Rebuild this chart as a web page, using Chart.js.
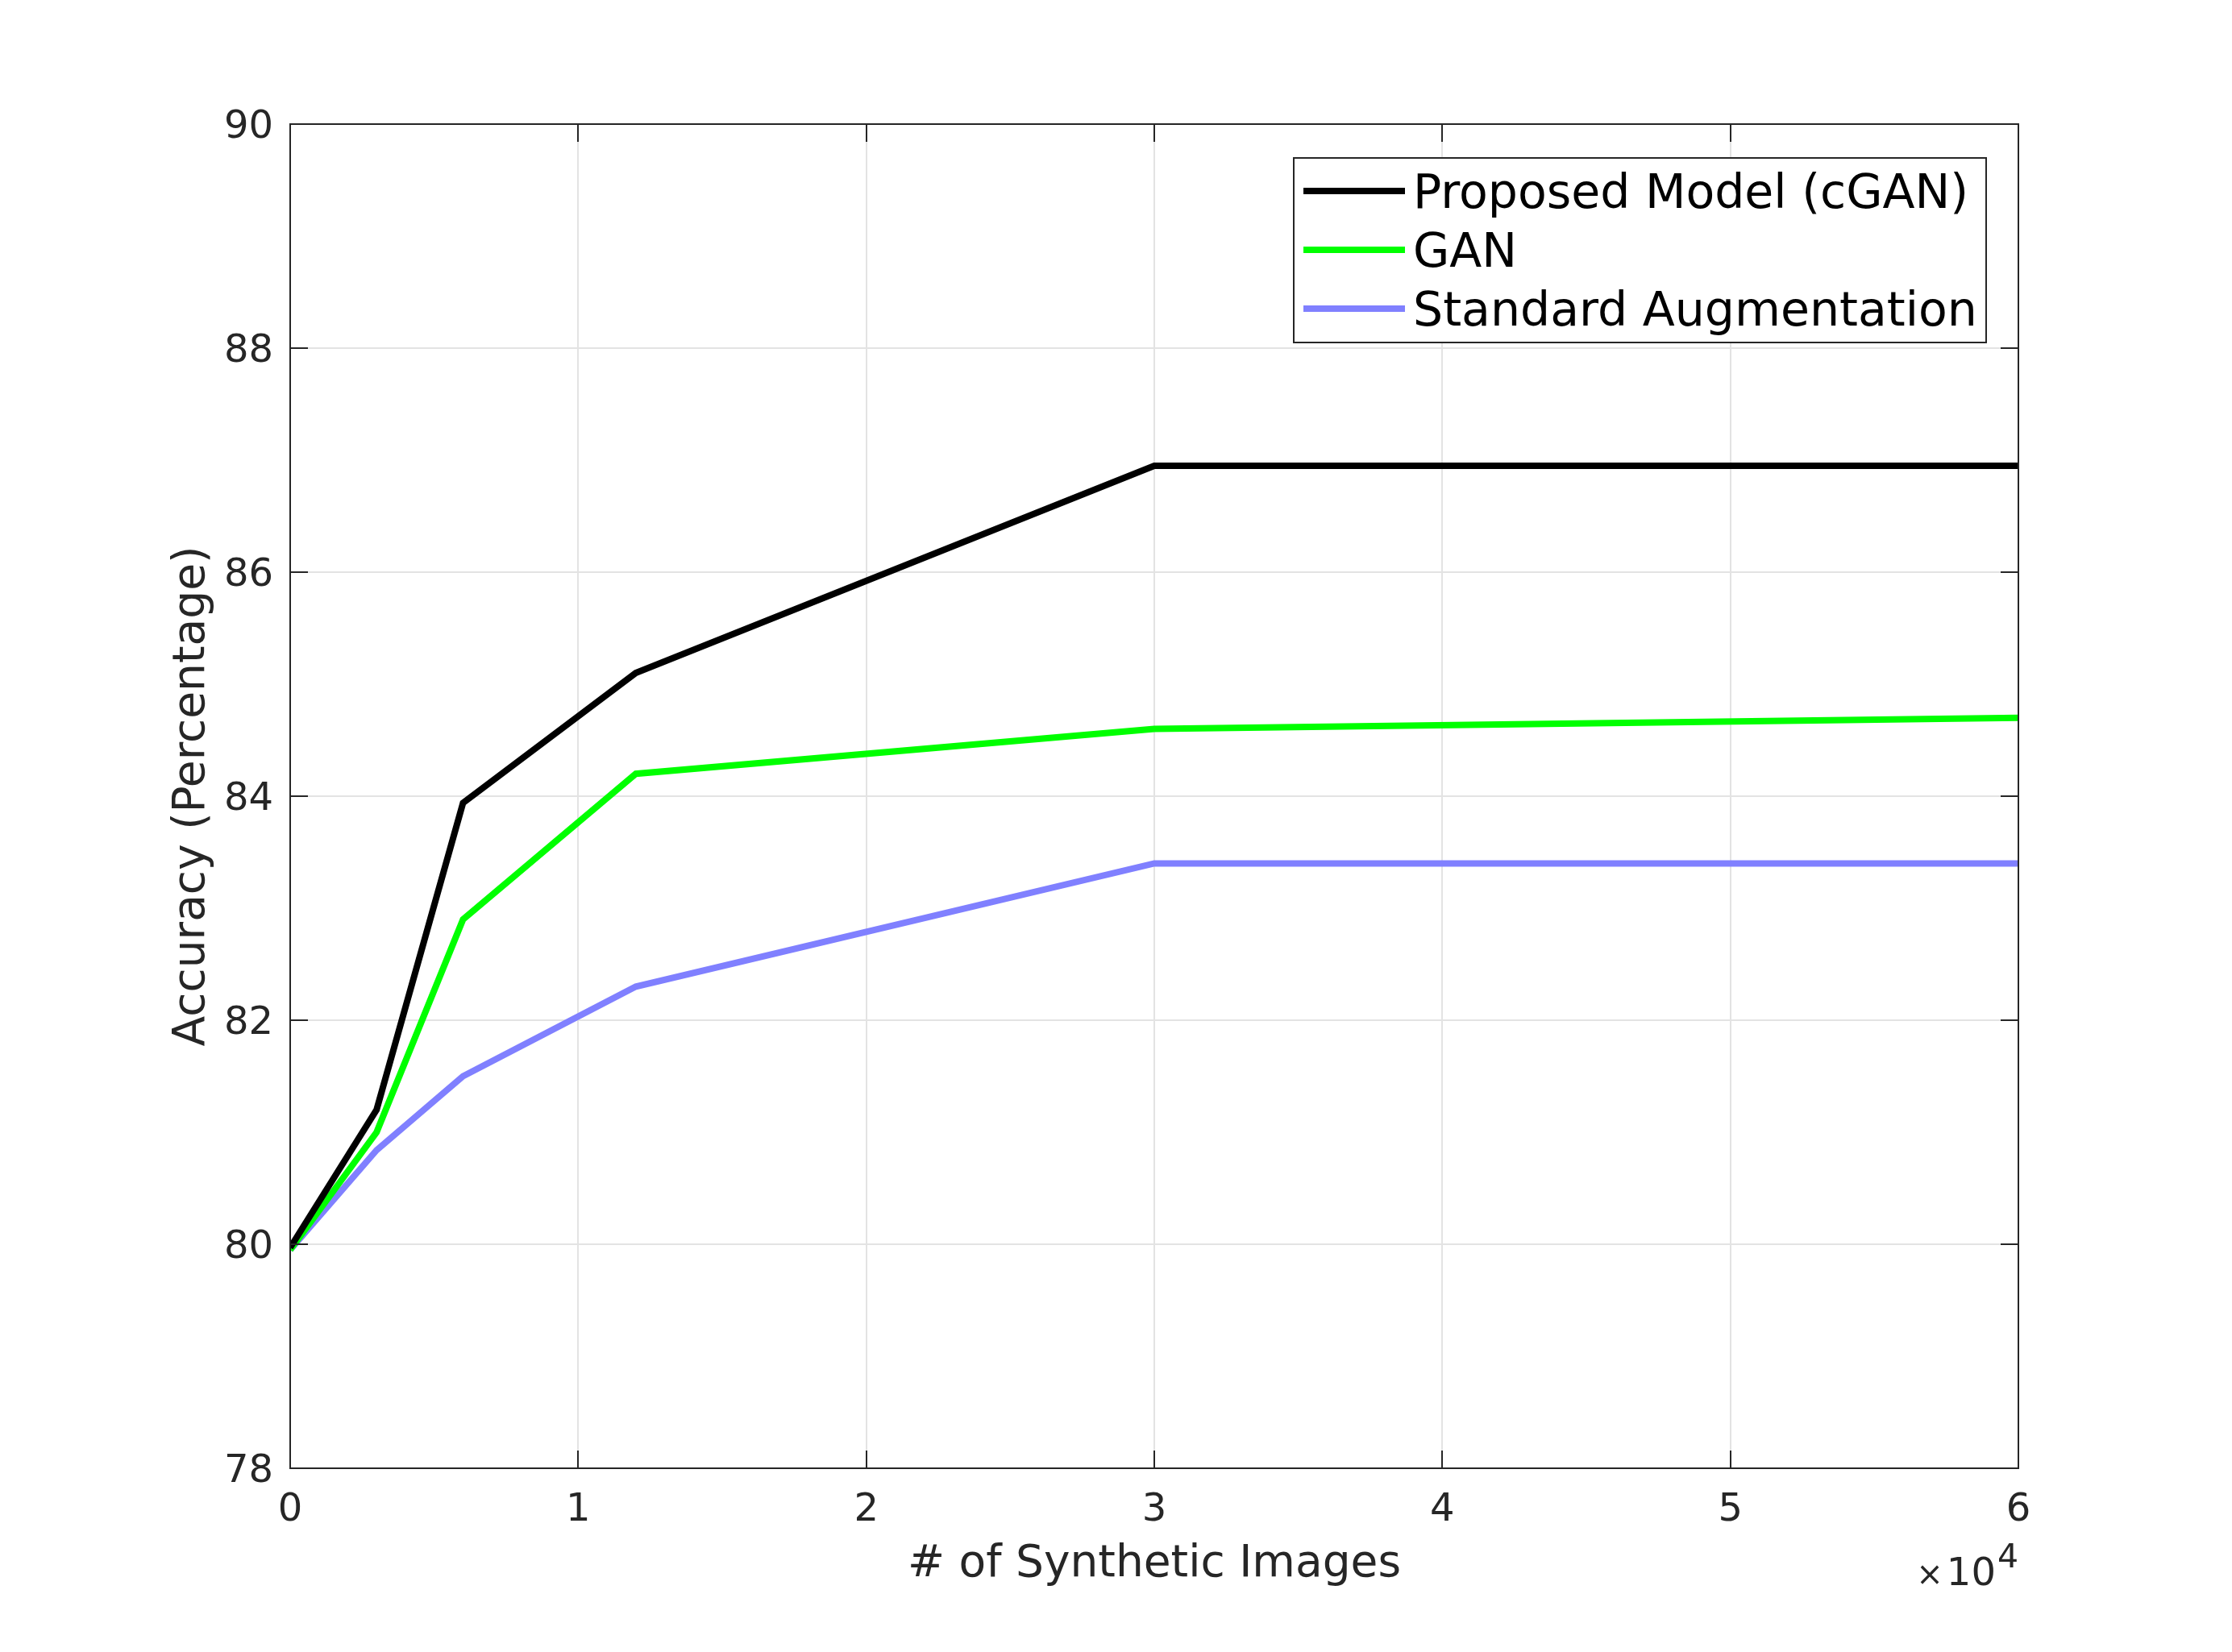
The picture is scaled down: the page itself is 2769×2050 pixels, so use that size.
<!DOCTYPE html>
<html>
<head>
<meta charset="utf-8">
<script src="https://cdn.jsdelivr.net/npm/chart.js@4/dist/chart.umd.min.js"></script>
<style>
  html, body { margin: 0; padding: 0; background: #ffffff; }
  #wrap { width: 2769px; height: 2050px; position: relative; }
</style>
</head>
<body>
<div id="wrap"><canvas id="chart" width="2769" height="2050"></canvas></div>
<script>
// ---- data ----
const syntheticImages = [0, 3000, 6000, 12000, 30000, 60000];
const cganAccuracy    = [79.97, 81.20, 83.94, 85.10, 86.95, 86.95];
const ganAccuracy     = [79.95, 81.00, 82.90, 84.20, 84.60, 84.70];
const stdAugAccuracy  = [79.95, 80.84, 81.50, 82.30, 83.40, 83.40];
const seriesLabels    = ['Proposed Model (cGAN)', 'GAN', 'Standard Augmentation'];
const seriesColors    = ['#000000', '#00ff00', '#8080ff'];
const xTickLabels     = ['0', '1', '2', '3', '4', '5', '6'];
const yTickLabels     = ['78', '80', '82', '84', '86', '88', '90'];
const xAxisTitle      = '# of Synthetic Images';
const yAxisTitle      = 'Accuracy (Percentage)';
const xExponentText   = '10';
const xExponentPower  = '4';

const FONT = "'DejaVu Sans', 'Liberation Sans', sans-serif";
const AXIS_COLOR = '#262626';

function toPoints(values) {
  return syntheticImages.map((x, i) => ({ x: x, y: values[i] }));
}

const allSeries = [cganAccuracy, ganAccuracy, stdAugAccuracy];
const datasets = allSeries.map((vals, i) => ({
  label: seriesLabels[i],
  data: toPoints(vals),
  borderColor: seriesColors[i],
  backgroundColor: seriesColors[i],
  borderWidth: 8,
  pointRadius: 0,
  pointHoverRadius: 0,
  tension: 0,
  fill: false,
  borderJoinStyle: 'miter',
  borderCapStyle: 'butt'
}));

// inward ticks, box, legend, exponent label
const matlabAxesPlugin = {
  id: 'matlabAxes',
  afterDatasetsDraw(chart) {
    const { ctx, chartArea: a, scales } = chart;
    const tl = 22;
    ctx.save();
    ctx.strokeStyle = AXIS_COLOR;
    ctx.lineWidth = 2;
    ctx.lineCap = 'butt';
    ctx.beginPath();
    ctx.rect(a.left, a.top, a.right - a.left, a.bottom - a.top);
    ctx.stroke();
    ctx.beginPath();
    scales.x.ticks.forEach(t => {
      const px = Math.round(scales.x.getPixelForValue(t.value));
      ctx.moveTo(px, a.bottom); ctx.lineTo(px, a.bottom - tl);
      ctx.moveTo(px, a.top); ctx.lineTo(px, a.top + tl);
    });
    scales.y.ticks.forEach(t => {
      const py = Math.round(scales.y.getPixelForValue(t.value));
      ctx.moveTo(a.left, py); ctx.lineTo(a.left + tl, py);
      ctx.moveTo(a.right, py); ctx.lineTo(a.right - tl, py);
    });
    ctx.stroke();
    ctx.restore();
  },
  afterDraw(chart) {
    const { ctx, chartArea: a } = chart;
    ctx.save();
    const boxRight = a.right - 40;
    const boxLeft = a.left + 1245;
    const boxTop = a.top + 42;
    const rowH = 73;
    const boxH = 229;
    ctx.fillStyle = '#ffffff';
    ctx.fillRect(boxLeft, boxTop, boxRight - boxLeft, boxH);
    ctx.strokeStyle = AXIS_COLOR;
    ctx.lineWidth = 2;
    ctx.strokeRect(boxLeft, boxTop, boxRight - boxLeft, boxH);
    ctx.font = '58.5px ' + FONT;
    ctx.textBaseline = 'alphabetic';
    ctx.textAlign = 'left';
    chart.data.datasets.forEach((ds, i) => {
      const cy = boxTop + 41 + i * rowH;
      ctx.strokeStyle = ds.borderColor;
      ctx.lineWidth = 8;
      ctx.beginPath();
      ctx.moveTo(boxLeft + 12, cy);
      ctx.lineTo(boxLeft + 138, cy);
      ctx.stroke();
      ctx.fillStyle = '#000000';
      ctx.fillText(ds.label, boxLeft + 148, cy + 21);
    });
    ctx.fillStyle = AXIS_COLOR;
    const baseY = a.bottom + 145;
    ctx.font = '41px ' + FONT;
    const wPow = ctx.measureText(xExponentPower).width;
    ctx.textAlign = 'right';
    ctx.fillText(xExponentPower, a.right, baseY - 22);
    ctx.font = '48px ' + FONT;
    const wTen = ctx.measureText(xExponentText).width;
    ctx.fillText(xExponentText, a.right - wPow - 2, baseY);
    ctx.font = '40px ' + FONT;
    ctx.fillText('\u00d7', a.right - wPow - wTen - 6, baseY);
    ctx.restore();
  }
};

new Chart(document.getElementById('chart').getContext('2d'), {
  type: 'line',
  data: { datasets: datasets },
  options: {
    responsive: false,
    animation: false,
    devicePixelRatio: 1,
    layout: { padding: { top: 154, right: 265, left: 0, bottom: 0 } },
    plugins: {
      legend: { display: false },
      tooltip: { enabled: false }
    },
    scales: {
      x: {
        type: 'linear',
        min: 0,
        max: 60000,
        afterFit: s => { s.height = 228; },
        afterBuildTicks: s => { s.ticks = xTickLabels.map((_, i) => ({ value: i * 10000 })); },
        ticks: {
          callback: (v) => xTickLabels[Math.round(v / 10000)],
          font: { family: FONT, size: 48 },
          color: AXIS_COLOR,
          padding: 24,
          maxRotation: 0,
          autoSkip: false
        },
        grid: { color: '#e3e3e3', lineWidth: 2, drawTicks: false },
        border: { display: true, color: AXIS_COLOR, width: 2 },
        title: {
          display: true,
          text: xAxisTitle,
          font: { family: FONT, size: 55 },
          color: AXIS_COLOR,
          padding: { top: 0, bottom: 75 }
        }
      },
      y: {
        type: 'linear',
        min: 78,
        max: 90,
        afterFit: s => { s.width = 360; },
        afterBuildTicks: s => { s.ticks = yTickLabels.map(l => ({ value: Number(l) })); },
        ticks: {
          callback: (v) => yTickLabels[yTickLabels.indexOf(String(v))],
          font: { family: FONT, size: 48 },
          color: AXIS_COLOR,
          padding: 21,
          labelOffset: 5
        },
        grid: { color: '#e3e3e3', lineWidth: 2, drawTicks: false },
        border: { display: true, color: AXIS_COLOR, width: 2 },
        title: {
          display: true,
          text: yAxisTitle,
          font: { family: FONT, size: 55 },
          color: AXIS_COLOR,
          padding: { top: 206, bottom: 0 }
        }
      }
    }
  },
  plugins: [matlabAxesPlugin]
});
</script>
</body>
</html>
